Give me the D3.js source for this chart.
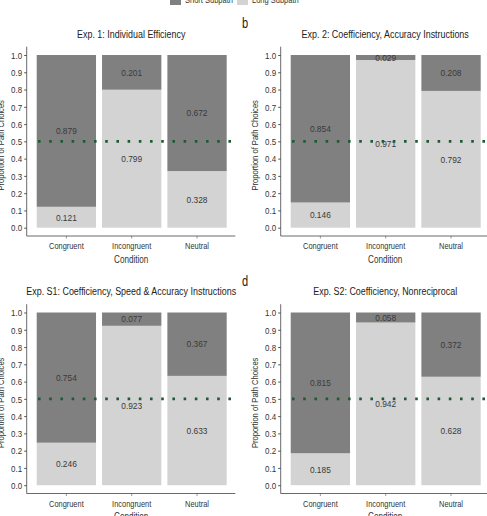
<!DOCTYPE html>
<html>
<head>
<meta charset="utf-8">
<script src="https://cdn.jsdelivr.net/npm/d3@7"></script>
<style>
  html, body { margin: 0; padding: 0; background: #fff; }
  svg { display: block; font-family: "Liberation Sans", Arial, sans-serif; }
</style>
</head>
<body>
<div id="chart"></div>
<script>
// Data.
const conditions = ["Congruent", "Incongruent", "Neutral"];
const panelTitles = [
  "Exp. 1: Individual Efficiency",
  "Exp. 2: Coefficiency, Accuracy Instructions",
  "Exp. S1: Coefficiency, Speed & Accuracy Instructions",
  "Exp. S2: Coefficiency, Nonreciprocal"
];
const panelLetters = ["", "b", "", "d"];
const shortSubpath = [
  [0.879, 0.201, 0.672],
  [0.854, 0.029, 0.208],
  [0.754, 0.077, 0.367],
  [0.815, 0.058, 0.372]
];
const longSubpath = [
  [0.121, 0.799, 0.328],
  [0.146, 0.971, 0.792],
  [0.246, 0.923, 0.633],
  [0.185, 0.942, 0.628]
];
const yTicks = [0, 0.1, 0.2, 0.3, 0.4, 0.5, 0.6, 0.7, 0.8, 0.9, 1.0];
const chanceLevel = 0.5;
const seriesNames = ["Short Subpath", "Long Subpath"];

const W = 487, H = 516;
const SX = 0.79;     // the figure uses a condensed face: narrow the letters
const SX_NUM = 0.88; // digits are less condensed
const color = d3.scaleOrdinal().domain(["short", "long"]).range(["#808080", "#d3d3d3"]);

const svg = d3.select("#chart").append("svg")
  .attr("width", W)
  .attr("height", H);

// text helper: condensed text placed at (x, y)
function label(parent, x, y, str, size, anchor, rot, sx) {
  return parent.append("text")
    .attr("transform", `translate(${x},${y})` + (rot ? ` rotate(${rot})` : "") + ` scale(${sx || SX},1)`)
    .attr("text-anchor", anchor || "middle")
    .style("font-size", size + "px")
    .text(str);
}

// Legend (cut by the top edge in the original)
const legend = svg.append("g");
[["short", 170, seriesNames[0]], ["long", 237, seriesNames[1]]].forEach(([k, lx, name]) => {
  legend.append("rect").attr("x", lx).attr("y", -6).attr("width", 11).attr("height", 11).attr("fill", color(k));
  label(legend, lx + 15, 3, name, 9.5, "start").attr("fill", "#333");
});

const plotH = 172.7;
const colX = [26.7, 280.7];
const rowTop = [55, 312.5];

panelTitles.forEach((title, i) => {
  const col = i % 2, row = Math.floor(i / 2);
  const x0 = colX[col], top = rowTop[row];
  const g = svg.append("g").attr("transform", `translate(${x0},${top})`);

  const x = d3.scaleBand()
    .domain(conditions)
    .range([10, 200])
    .paddingInner(0.092)
    .paddingOuter(0);
  const y = d3.scaleLinear().domain([0, 1]).range([plotH, 0]);

  const rows = conditions.map((c, j) => ({ cond: c, long: longSubpath[i][j], short: shortSubpath[i][j] }));
  const stacked = d3.stack().keys(["long", "short"])(rows);

  // bars
  const layers = g.selectAll("g.layer")
    .data(stacked)
    .enter().append("g")
    .attr("class", "layer")
    .attr("fill", d => color(d.key));
  layers.selectAll("rect")
    .data(d => d)
    .enter().append("rect")
    .attr("x", d => x(d.data.cond))
    .attr("width", x.bandwidth())
    .attr("y", d => y(d[1]))
    .attr("height", d => y(d[0]) - y(d[1]));

  // value labels in the middle of each segment
  stacked.forEach(layer => {
    layer.forEach(d => {
      label(g, x(d.data.cond) + x.bandwidth() / 2, y((d[0] + d[1]) / 2) + 3.3,
        (d[1] - d[0]).toFixed(3), 9.5, "middle", 0, SX_NUM).attr("fill", "#3a3a3a");
    });
  });

  // chance line
  g.append("line")
    .attr("x1", 11.3).attr("x2", 208)
    .attr("y1", y(chanceLevel)).attr("y2", y(chanceLevel))
    .attr("stroke", "#1f5a34")
    .attr("stroke-width", 2.6)
    .attr("stroke-dasharray", "2.6 8.6");

  // axes
  const axisY = plotH + 8.3;
  const yAxis = g.append("g")
    .call(d3.axisLeft(y).tickValues(yTicks).tickFormat(d3.format(".1f")).tickSize(2.5).tickPadding(3));
  yAxis.select(".domain").remove();
  yAxis.selectAll(".tick line").attr("stroke", "#555");
  yAxis.selectAll(".tick text")
    .attr("x", -4.5 / 0.84)
    .attr("dy", "0.34em")
    .attr("transform", "scale(0.84,1)")
    .style("font-size", "9.5px")
    .attr("fill", "#333");

  const xAxis = g.append("g")
    .attr("transform", `translate(0,${axisY})`)
    .call(d3.axisBottom(x).tickSize(2.5).tickPadding(4));
  xAxis.select(".domain").remove();
  xAxis.selectAll(".tick line").attr("stroke", "#999");
  xAxis.selectAll(".tick text")
    .attr("transform", `scale(${SX},1)`)
    .style("font-size", "9.4px")
    .attr("fill", "#333");

  g.append("line").attr("x1", 0).attr("x2", 0).attr("y1", -8.3).attr("y2", axisY)
    .attr("stroke", "#444").attr("stroke-width", 0.8);
  g.append("line").attr("x1", 0).attr("x2", 208.6).attr("y1", axisY).attr("y2", axisY)
    .attr("stroke", "#444").attr("stroke-width", 0.8);

  // titles
  label(g, 104.5, -17.3, title, 11.3, "middle").attr("fill", "#222");
  label(g, 104.5, axisY + 26.5, "Condition", 10.3, "middle").attr("fill", "#333");
  label(g, -23.2, plotH / 2 + 4, "Proportion of Path Choices", 9.6, "middle", -90).attr("fill", "#333");

  if (panelLetters[i]) {
    label(svg, 245, top - 26.7, panelLetters[i], 14, "middle").attr("fill", "#222");
  }
});
</script>
</body>
</html>
